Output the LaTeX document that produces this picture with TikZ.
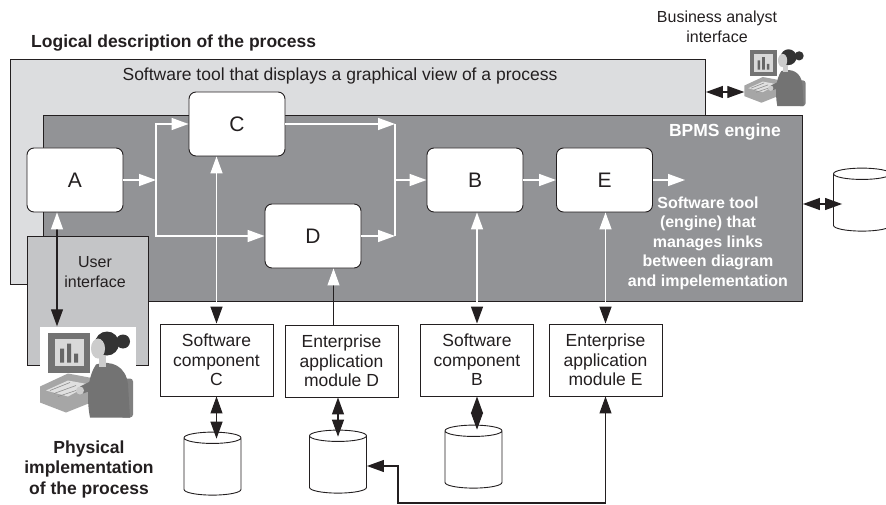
\documentclass[tikz,border=0pt]{standalone}
\usepackage{fontspec}
\setmainfont{Liberation Sans}
\usetikzlibrary{arrows.meta}
\usetikzlibrary{positioning}
\usetikzlibrary{shapes.geometric}

\definecolor{ink}{HTML}{231F20}
\definecolor{viewgray}{HTML}{DCDDDF}
\definecolor{enginegray}{HTML}{929396}
\definecolor{uigray}{HTML}{C4C5C7}

\tikzset{
  txt/.style={font=\fontsize{16}{19.5}\selectfont, align=center, inner sep=0pt, text=ink},
  bigtxt/.style={txt, font=\fontsize{17.5}{20}\selectfont},
  boldtxt/.style={txt, font=\fontsize{17.5}{20.5}\selectfont\bfseries},
  task/.style={draw=ink, fill=white, rounded corners=7pt, line width=0.9pt,
    minimum width=96pt, minimum height=64pt, font=\fontsize{21}{24}\selectfont, text=ink},
  module/.style={txt, draw=ink, fill=white, line width=0.9pt, font=\fontsize{17.5}{19.5}\selectfont,
    minimum width=113pt, minimum height=72pt},
  db/.style={cylinder, shape border rotate=90, aspect=1.7, draw=ink, fill=white,
    line width=0.9pt, minimum width=57pt, minimum height=63pt},
  panel/.style={draw=ink, line width=0.9pt, anchor=north west},
  wline/.style={white, line width=1.4pt},
  bline/.style={ink, line width=1.1pt},
  btip/.tip={Triangle[length=17pt, width=12pt, color=ink]},
  wtip/.tip={Triangle[length=17pt, width=12pt, color=white]},
  % little clip-art person at a computer, drawn in a 96 x 91 box
  worker/.pic={
    \begin{scope}[shift={(-48,-45.5)}]
      % desk and keyboard
      \fill[black!35] (0,60) -- (28,47) -- (60,53) -- (56,74) -- (26,86) -- (0,76) -- cycle;
      \fill[black!12] (6,64) -- (28,54) -- (50,58) -- (28,70) -- cycle;
      \draw[black!45, line width=0.6pt] (10,64) -- (30,56) (14,67) -- (36,59) (18,70) -- (42,62);
      % monitor with bar chart
      \fill[black!55] (8,6) rectangle (50,46);
      \fill[black!15] (15,12) rectangle (44,39);
      \fill[black!60] (20,22) rectangle (24,36) (27,17) rectangle (31,36) (34,27) rectangle (38,36);
      % chair
      \fill[black!50, rounded corners=3pt] (80,52) rectangle (93,91);
      % body and arm
      \fill[black!55] (56,38) .. controls (72,33) and (86,40) .. (88,58) -- (90,91) -- (50,91)
        .. controls (46,70) and (48,50) .. (56,38) -- cycle;
      \fill[black!55] (56,52) -- (40,60) -- (43,67) -- (62,60) -- cycle;
      \fill[black!20] (40,64) circle (4);
      % neck, hair and face
      \fill[black!20] (59,28) rectangle (66,40);
      \fill[black!80] (67,17) circle (12);
      \fill[black!80] (83,15) circle (7);
      \fill[black!20] (58,22) ellipse (7 and 10);
    \end{scope}
  }
}

\begin{document}
\begin{tikzpicture}[x=1pt, y=-1pt]

\useasboundingbox (0,0) rectangle (886,505);
\clip (0,0) rectangle (886,505);

% logical layer
\node[boldtxt, anchor=west] (title) at (31,43) {Logical description of the process};
\node[panel, fill=viewgray, minimum width=695pt, minimum height=225pt] (view) at (10,59) {};
\node[bigtxt] (viewlabel) at (340,76) {Software tool that displays a graphical view of a process};

\node[panel, fill=enginegray, minimum width=759pt, minimum height=186pt] (engine) at (43,115) {};
\node[boldtxt, text=white] (enginelabel) at (725,132) {BPMS engine};
\node[txt, font=\fontsize{16}{19.5}\selectfont\bfseries, text=white] (tool) at (708,243)
  {Software tool\\(engine) that\\manages links\\between diagram\\and impelementation};

\node[panel, fill=uigray, minimum width=121pt, minimum height=129pt] (ui) at (27,236) {};
\node[txt] (uilabel) at (95,272) {User\\interface};

% process steps
\node[task] (a) at (75,180) {A};
\node[task] (c) at (237,124) {C};
\node[task] (d) at (313,236) {D};
\node[task] (b) at (475,180) {B};
\node[task] (e) at (604.5,180) {E};

\coordinate (jl) at (156,180);
\coordinate (jr) at (395,180);
\coordinate (out) at (685,180);

\draw[wline, -{wtip}] (a.east) -- (jl);
\draw[wline, -{wtip}] (jl) |- (c.west);
\draw[wline, -{wtip}] (jl) |- (d.west);
\draw[wline, -{wtip}] (c.east) -- (c.east -| jr);
\draw[wline, -{wtip}] (d.east) -- (d.east -| jr);
\draw[wline] (c.east -| jr) -- (d.east -| jr);
\draw[wline, -{wtip}] (jr) -- (b.west);
\draw[wline, -{wtip}] (b.east) -- (e.west);
\draw[wline, -{wtip}] (e.east) -- (out);

% people
\node[fill=white, minimum width=96pt, minimum height=91pt, inner sep=0pt] (user) at (88,372) {};
\pic at (user.center) {worker};
\node[txt] (analystlabel) at (717,27) {Business analyst\\interface};
\node[minimum width=63pt, minimum height=62pt, inner sep=0pt] (analyst) at (776,76) {};
\pic[scale=0.66] at (analyst.center) {worker};

\node[boldtxt] (physical) at (89,469) {Physical\\implementation\\of the process};

% implementation layer
\node[module] (swc) at (216.5,360) {Software\\component\\C};
\node[module] (eamd) at (341.5,361) {Enterprise\\application\\module D};
\node[module] (swb) at (477,360) {Software\\component\\B};
\node[module] (eame) at (605.5,360) {Enterprise\\application\\module E};

\node[db] (dbc) at (212.5,468) {};
\node[db] (dbd) at (338,466) {};
\node[db] (dbb) at (473.5,461) {};
\node[db] (dbr) at (862,204) {};

\coordinate (bend) at (398,503);

% links between diagram and implementation
\draw[bline, {wtip}-{btip}] ([xshift=-18pt]a.south) -- ([xshift=-18pt]a.south |- user.north);
\draw[wline, {btip}-{wtip}] (swc.north) -- (swc.north |- c.south);
\draw[bline, -{wtip}] ([xshift=-8pt]eamd.north) -- ([xshift=-8pt]eamd.north |- d.south);
\draw[wline, {btip}-{wtip}] (swb.north) -- (swb.north |- b.south);
\draw[wline, {btip}-{wtip}] (eame.north) -- (eame.north |- e.south);

\draw[bline, {btip}-{btip}, shorten >=-7pt] (swc.south) -- (swc.south |- dbc.north);
\draw[bline, {btip}-{btip}, shorten >=-7pt] (dbd.north |- eamd.south) -- (dbd.north);
\draw[bline, {btip}-{btip}, shorten >=-5pt] (swb.south) -- (swb.south |- dbb.north);
\draw[bline, {btip}-{btip}] (dbd.east) -| (bend) -| (eame.south);

\draw[bline, {btip}-{btip}, shorten >=-9pt] (engine.east |- dbr) -- (dbr.west);
\draw[bline, {btip}-{btip}] ([yshift=-16pt]analyst.west -| view.east) -- ([yshift=-16pt]analyst.west);

\end{tikzpicture}
\end{document}
